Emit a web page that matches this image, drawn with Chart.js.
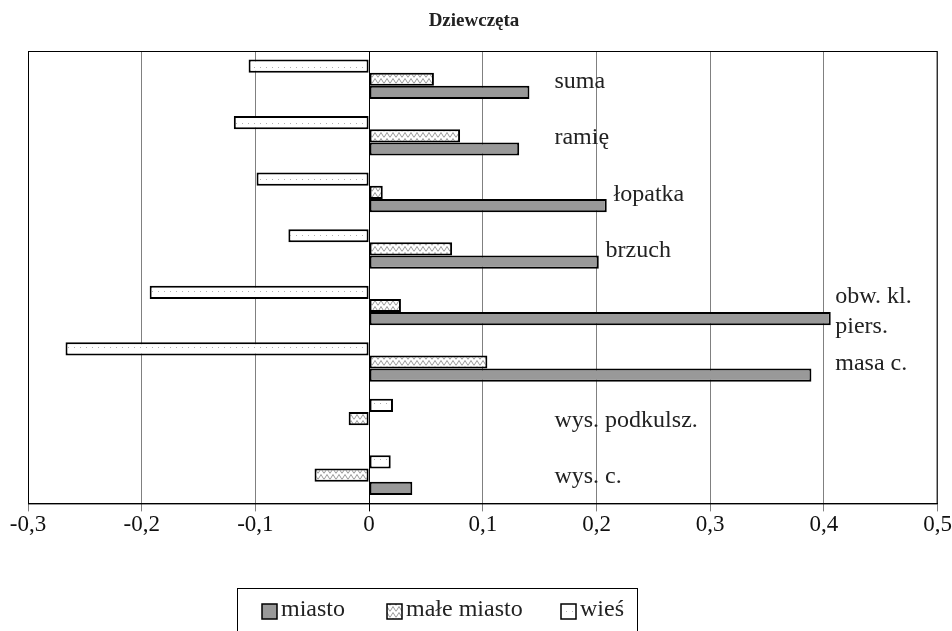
<!DOCTYPE html>
<html>
<head>
<meta charset="utf-8">
<script src="https://cdn.jsdelivr.net/npm/chart.js@4.4.0/dist/chart.umd.min.js"></script>
<style>
  html, body { margin: 0; padding: 0; background: #fff; }
</style>
</head>
<body>
<canvas id="chart" width="952" height="631"></canvas>
<script>
// data
const categories = ['suma', 'ramię', 'łopatka', 'brzuch', 'obw. kl. piers.', 'masa c.', 'wys. podkulsz.', 'wys. c.'];
const labelLines = [['suma'], ['ramię'], ['łopatka'], ['brzuch'], ['obw. kl.', 'piers.'], ['masa c.'], ['wys. podkulsz.'], ['wys. c.']];
const labelAt = [0.163, 0.163, 0.215, 0.208, 0.410, 0.410, 0.163, 0.163];
const miasto = [0.141, 0.132, 0.209, 0.202, 0.406, 0.389, 0, 0.038];
const maleMiasto = [0.057, 0.080, 0.012, 0.073, 0.028, 0.104, -0.018, -0.048];
const wies = [-0.106, -0.119, -0.099, -0.071, -0.193, -0.267, 0.021, 0.019];
const xTicks = [-0.3, -0.2, -0.1, 0, 0.1, 0.2, 0.3, 0.4, 0.5];

const serif = "'Liberation Serif', 'Times New Roman', serif";

// fill patterns
function zigzagPattern() {
    const c = document.createElement('canvas');
    c.width = 6; c.height = 6;
    const g = c.getContext('2d');
    g.fillStyle = '#fff';
    g.fillRect(0, 0, 6, 6);
    g.strokeStyle = '#9a9a9a';
    g.lineWidth = 1;
    g.beginPath();
    g.moveTo(0, 5.5); g.lineTo(3, 0.5); g.lineTo(6, 5.5);
    g.stroke();
    return g.createPattern(c, 'repeat');
}
function dotPattern() {
    const c = document.createElement('canvas');
    c.width = 6; c.height = 8;
    const g = c.getContext('2d');
    g.fillStyle = '#fff';
    g.fillRect(0, 0, 6, 8);
    g.fillStyle = '#b0b0b0';
    g.fillRect(2, 3, 1, 1);
    return g.createPattern(c, 'repeat');
}
const zig = zigzagPattern();
const dots = dotPattern();

function fmt(v) {
    const r = Math.round(v * 10) / 10;
    return r === 0 ? '0' : r.toString().replace('.', ',');
}

const extras = {
    id: 'extras',
    afterDraw(chart) {
        const ctx = chart.ctx;
        const a = chart.chartArea;
        const xs = chart.scales.x, ys = chart.scales.y;
        ctx.save();
        // frame
        ctx.strokeStyle = '#000';
        ctx.lineWidth = 1;
        ctx.strokeRect(a.left + 0.5, a.top + 0.5, a.right - a.left - 1, a.bottom - a.top);

        // title
        ctx.fillStyle = '#222';
        ctx.font = 'bold 19px ' + serif;
        ctx.textAlign = 'center';
        ctx.textBaseline = 'middle';
        ctx.fillText('Dziewczęta', 474, 21);

        // category labels inside the plot
        ctx.font = '24px ' + serif;
        ctx.textAlign = 'left';
        labelLines.forEach((lines, i) => {
            const x = xs.getPixelForValue(labelAt[i]);
            const y = ys.getPixelForValue(i);
            if (lines.length === 1) {
                ctx.fillText(lines[0], x, y + 2);
            } else {
                ctx.fillText(lines[0], x, y - 9);
                ctx.fillText(lines[1], x, y + 21);
            }
        });

        // legend
        ctx.strokeStyle = '#000';
        ctx.strokeRect(237.5, 588.5, 400, 50);
        const items = [
            { text: 'miasto', fill: '#999', x: 262 },
            { text: 'małe miasto', fill: zig, x: 387 },
            { text: 'wieś', fill: dots, x: 561 }
        ];
        items.forEach(it => {
            ctx.fillStyle = it.fill;
            ctx.fillRect(it.x, 604, 15, 15);
            ctx.lineWidth = 1.5;
            ctx.strokeRect(it.x, 604, 15, 15);
            ctx.fillStyle = '#222';
            ctx.fillText(it.text, it.x + 19, 610);
        });
        ctx.restore();
    }
};

new Chart(document.getElementById('chart'), {
    type: 'bar',
    data: {
        labels: categories,
        datasets: [
            { label: 'wieś', data: wies, backgroundColor: dots, borderColor: '#000', borderWidth: 2 },
            { label: 'małe miasto', data: maleMiasto, backgroundColor: zig, borderColor: '#000', borderWidth: 2 },
            { label: 'miasto', data: miasto, backgroundColor: '#999', borderColor: '#000', borderWidth: 2 }
        ]
    },
    options: {
        indexAxis: 'y',
        responsive: false,
        animation: false,
        devicePixelRatio: 1,
        layout: { padding: { left: 28, right: 14, top: 51, bottom: 92 } },
        datasets: { bar: { barPercentage: 1, categoryPercentage: 0.7, borderSkipped: false } },
        plugins: { legend: { display: false }, title: { display: false }, tooltip: { enabled: false } },
        scales: {
            x: {
                min: -0.3,
                max: 0.5,
                afterBuildTicks: s => { s.ticks = xTicks.map(v => ({ value: v })); },
                ticks: { callback: v => fmt(v), font: { family: serif, size: 23 }, color: '#111', padding: 0, maxRotation: 0 },
                grid: { color: c => (c.tick && c.tick.value === 0 ? '#000' : '#808080'), tickLength: 8 },
                border: { color: '#000' }
            },
            y: {
                display: false
            }
        }
    },
    plugins: [extras]
});
</script>
</body>
</html>
